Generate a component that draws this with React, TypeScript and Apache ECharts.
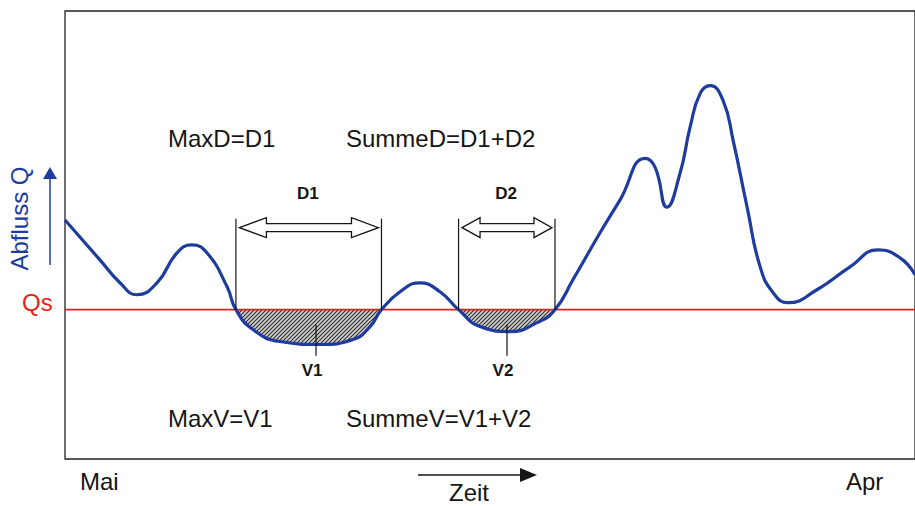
import React, { useEffect, useRef } from 'react';
import * as echarts from 'echarts';

// Time axis in days from start of May (Mai) to end of April (Apr)
const days = [0, 15, 23.6, 30.9, 39.5, 48.1, 54.5, 61, 69.6, 73.4, 80.7, 92.3, 109.5, 123.7, 131, 135.9, 143.9, 152.4, 161, 169, 178.2, 191.1, 202.7, 210.4, 218.1, 229.7, 238.3, 249.1, 253.4, 258.5, 264.1, 268.4, 272.7, 277, 282.6, 286.9, 292.9, 298.5, 304.1, 310.5, 322.9, 337.1, 349.1, 358.6, 365];
// Discharge Q (arbitrary units)
const flow = [48, 40, 35.4, 33, 35.4, 41.4, 43, 41.4, 34.6, 30, 26, 23.6, 23, 24, 26.6, 30, 33.6, 35.4, 33.6, 30, 26.6, 25.6, 27.4, 30, 36, 45.4, 52, 60.4, 58.6, 50.6, 57.4, 66.6, 73.4, 75, 72, 64, 50.6, 38.6, 33.4, 31.4, 34, 38.6, 42, 40.4, 37];
// Threshold discharge
const QS = 30;
// Drought events
const droughtStart = [73.4, 169.0];
const droughtEnd = [135.9, 210.4];
const droughtLabels = ['D1', 'D2'];
const volumeAt = [107.8, 189.8];
const volumeLabels = ['V1', 'V2'];
const monthLabels = ['Mai', 'Apr'];
const summaryTop = ['MaxD=D1', 'SummeD=D1+D2'];
const summaryBottom = ['MaxV=V1', 'SummeV=V1+V2'];

const FONT = "'Liberation Sans', Arial, Helvetica, sans-serif";
const BLUE = '#1d3c9e';
const RED = '#e2231a';
const INK = '#151515';

function makeHatch(): HTMLCanvasElement {
  const c = document.createElement('canvas');
  c.width = 4;
  c.height = 4;
  const ctx = c.getContext('2d')!;
  ctx.fillStyle = '#cfcfcf';
  ctx.fillRect(0, 0, 4, 4);
  ctx.strokeStyle = '#2e2e2e';
  ctx.lineWidth = 1.1;
  ctx.beginPath();
  ctx.moveTo(-1, 5);
  ctx.lineTo(5, -1);
  ctx.moveTo(-3, 3);
  ctx.lineTo(3, -3);
  ctx.moveTo(1, 7);
  ctx.lineTo(7, 1);
  ctx.stroke();
  return c;
}

export default function App() {
  const ref = useRef<HTMLDivElement>(null);

  useEffect(() => {
    if (!ref.current) return;
    const chart = echarts.init(ref.current, undefined, { renderer: 'svg' });
    const points = days.map((d, i) => [d, flow[i]]);
    const hatch = makeHatch();

    const renderItem = (params: any, api: any) => {
      const i = params.dataIndex;
      const s = api.value(0);
      const e = api.value(1);
      const v = api.value(2);
      const p1 = api.coord([s, QS]);
      const p2 = api.coord([e, QS]);
      const pv = api.coord([v, QS]);
      const x1 = p1[0];
      const x2 = p2[0];
      const y0 = p1[1];
      const xv = pv[0];
      const top = y0 - 91;
      const ay = y0 - 82;
      const ax1 = x1 + 3.5;
      const ax2 = x2 - 3;
      const hl = Math.min(27, (ax2 - ax1) * 0.2);
      const hh = 10;
      const sh = 4;
      const pts = [
        [ax1, ay], [ax1 + hl, ay - hh], [ax1 + hl, ay - sh], [ax2 - hl, ay - sh], [ax2 - hl, ay - hh],
        [ax2, ay], [ax2 - hl, ay + hh], [ax2 - hl, ay + sh], [ax1 + hl, ay + sh], [ax1 + hl, ay + hh],
      ];
      const lineStyle = { stroke: INK, lineWidth: 1.2 };
      const labelStyle = (text: string) => ({
        text, fontSize: 17, fontWeight: 'bold', fontFamily: FONT, fill: INK, align: 'center', verticalAlign: 'middle',
      });
      return {
        type: 'group',
        children: [
          { type: 'line', shape: { x1: x1, y1: top, x2: x1, y2: y0 }, style: lineStyle },
          { type: 'line', shape: { x1: x2, y1: top, x2: x2, y2: y0 }, style: lineStyle },
          { type: 'polygon', shape: { points: pts }, style: { fill: '#fff', stroke: INK, lineWidth: 1.3 } },
          { type: 'text', x: (ax1 + ax2) / 2 - 1, y: y0 - 116, style: labelStyle(droughtLabels[i]) },
          { type: 'line', shape: { x1: xv, y1: y0 + 15, x2: xv, y2: y0 + 46 }, style: lineStyle },
          { type: 'text', x: xv - 4, y: y0 + 61, style: labelStyle(volumeLabels[i]) },
        ],
      };
    };

    const textStyle = (text: string, size = 24, fill = INK) => ({
      text, fontSize: size, fontFamily: FONT, fill, align: 'left', verticalAlign: 'middle',
    });

    const option: any = {
      animation: false,
      backgroundColor: '#fff',
      grid: [
        { left: 65, right: -1, top: 11, bottom: 47, show: true, borderColor: '#222', borderWidth: 1.3, backgroundColor: 'transparent' },
        { left: 65, right: -1, top: 11 + 448 * (60 / 90), bottom: 47 },
      ],
      xAxis: [
        { type: 'value', gridIndex: 0, min: 0, max: 365, show: false },
        { type: 'value', gridIndex: 1, min: 0, max: 365, show: false },
      ],
      yAxis: [
        { type: 'value', gridIndex: 0, min: 0, max: 90, show: false },
        { type: 'value', gridIndex: 1, min: 0, max: QS, show: false },
      ],
      series: [
        {
          name: 'Defizit',
          type: 'line', xAxisIndex: 1, yAxisIndex: 1, data: points, smooth: 0.5, symbol: 'none', silent: true,
          lineStyle: { width: 0.01, opacity: 0 },
          areaStyle: { origin: 'end', color: { image: hatch, repeat: 'repeat' }, opacity: 1 },
          z: 1,
        },
        {
          name: 'Qs', type: 'line', data: [[0, QS], [365, QS]], symbol: 'none', silent: true,
          lineStyle: { color: RED, width: 1.6 }, z: 2,
        },
        {
          name: 'Abfluss', type: 'line', data: points, smooth: 0.5, symbol: 'none', silent: true,
          lineStyle: { color: BLUE, width: 3.2 }, z: 3,
        },
        {
          name: 'Dürre', type: 'custom', renderItem, silent: true,
          data: droughtStart.map((s, i) => [s, droughtEnd[i], volumeAt[i]]),
          encode: { x: [0, 1, 2] }, z: 4,
        },
      ],
      graphic: [
        { type: 'text', left: 168, top: 126, style: textStyle(summaryTop[0]) },
        { type: 'text', left: 346, top: 126, style: textStyle(summaryTop[1]) },
        { type: 'text', left: 168, top: 406, style: textStyle(summaryBottom[0]) },
        { type: 'text', left: 346, top: 406, style: textStyle(summaryBottom[1]) },
        { type: 'text', left: 80, top: 469, style: textStyle(monthLabels[0]) },
        { type: 'text', left: 846, top: 469, style: textStyle(monthLabels[1]) },
        { type: 'text', left: 449, top: 480, style: textStyle('Zeit') },
        { type: 'text', left: 22, top: 290, style: textStyle('Qs', 24, RED) },
        {
          type: 'text', x: 19, y: 218.5, rotation: Math.PI / 2,
          style: { text: 'Abfluss Q', fontSize: 24, fontFamily: FONT, fill: BLUE, align: 'center', verticalAlign: 'middle' },
        },
        { type: 'line', shape: { x1: 50, y1: 265, x2: 50, y2: 176 }, style: { stroke: BLUE, lineWidth: 1.5 } },
        { type: 'polygon', shape: { points: [[50, 167], [43, 179], [57, 179]] }, style: { fill: BLUE } },
        { type: 'line', shape: { x1: 418, y1: 475, x2: 522, y2: 475 }, style: { stroke: INK, lineWidth: 1.5 } },
        { type: 'polygon', shape: { points: [[537, 475], [520, 468], [520, 482]] }, style: { fill: INK } },
      ],
    };

    chart.setOption(option);
    return () => chart.dispose();
  }, []);

  return <div ref={ref} style={{ position: 'fixed', left: 0, top: 0, width: 915, height: 506 }} />;
}
